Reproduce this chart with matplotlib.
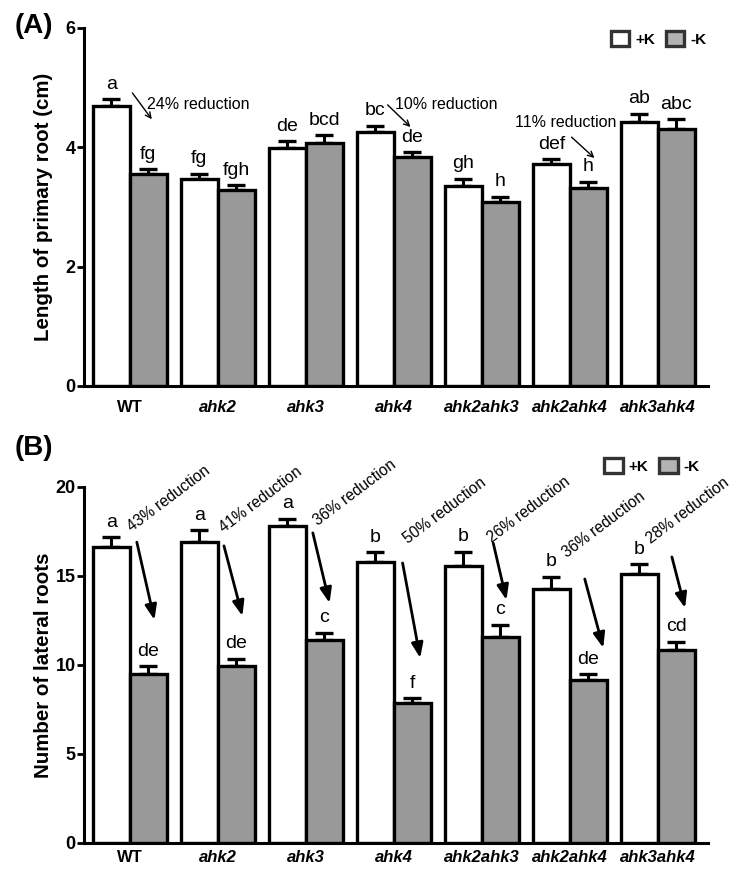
import numpy as np
import matplotlib
matplotlib.use("Agg")
import matplotlib.pyplot as plt

plt.rcParams['font.family'] = ['Liberation Sans', 'DejaVu Sans']

genotypes = ['WT', 'ahk2', 'ahk3', 'ahk4', 'ahk2ahk3', 'ahk2ahk4', 'ahk3ahk4']

# (A) length of primary root (cm)
primaryPlusK = [4.69, 3.47, 3.99, 4.25, 3.35, 3.72, 4.43]
primaryPlusKErr = [0.12, 0.09, 0.11, 0.11, 0.12, 0.08, 0.13]
primaryMinusK = [3.55, 3.28, 4.08, 3.83, 3.09, 3.32, 4.30]
primaryMinusKErr = [0.08, 0.08, 0.12, 0.09, 0.08, 0.10, 0.17]
primaryLettersPlus = ['a', 'fg', 'de', 'bc', 'gh', 'def', 'ab']
primaryLettersMinus = ['fg', 'fgh', 'bcd', 'de', 'h', 'h', 'abc']

# (B) number of lateral roots
lateralPlusK = [16.65, 16.89, 17.81, 15.80, 15.58, 14.25, 15.11]
lateralPlusKErr = [0.53, 0.69, 0.41, 0.53, 0.78, 0.71, 0.56]
lateralMinusK = [9.49, 9.96, 11.43, 7.88, 11.55, 9.16, 10.84]
lateralMinusKErr = [0.43, 0.39, 0.39, 0.25, 0.71, 0.32, 0.47]
lateralLettersPlus = ['a', 'a', 'a', 'b', 'b', 'b', 'b']
lateralLettersMinus = ['de', 'de', 'c', 'f', 'c', 'de', 'cd']
lateralReductions = ['43%', '41%', '36%', '50%', '26%', '36%', '28%']

greyColor = '#999999'
barWidth = 0.42


def drawBars(ax, plus, plusErr, minus, minusErr, lettersPlus, lettersMinus, labelPad):
    x = np.arange(len(genotypes))
    errKw = dict(ecolor='black', elinewidth=2.2, capsize=6.5, capthick=2.4, zorder=1)
    ax.bar(x - barWidth / 2, plus, barWidth, color='white', edgecolor='black',
           linewidth=2.4, yerr=[np.zeros(len(x)), plusErr], error_kw=errKw,
           label='+K', zorder=2)
    ax.bar(x + barWidth / 2, minus, barWidth, color=greyColor, edgecolor='black',
           linewidth=2.4, yerr=[np.zeros(len(x)), minusErr], error_kw=errKw,
           label='-K', zorder=2)
    for i in range(len(x)):
        ax.annotate(lettersPlus[i], (x[i] - barWidth / 2, plus[i] + plusErr[i]),
                    xytext=(0, 7.5), textcoords='offset points',
                    ha='center', va='baseline', fontsize=14)
        ax.annotate(lettersMinus[i], (x[i] + barWidth / 2, minus[i] + minusErr[i]),
                    xytext=(0, 7.5), textcoords='offset points',
                    ha='center', va='baseline', fontsize=14)

    ax.set_xlim(-0.52, 6.57)
    ax.set_xticks(x)
    ax.set_xticklabels(genotypes, fontweight='bold', fontsize=12)
    for lbl in ax.get_xticklabels()[1:]:
        lbl.set_fontstyle('italic')
    ax.tick_params(axis='x', length=0, pad=labelPad)
    ax.tick_params(axis='y', length=5, width=2, labelsize=13, pad=1)
    for lbl in ax.get_yticklabels():
        lbl.set_fontweight('bold')
    for side in ['top', 'right']:
        ax.spines[side].set_visible(False)
    for side in ['left', 'bottom']:
        ax.spines[side].set_linewidth(2.2)


def addLegend(ax, yPos, xPos):
    leg = ax.legend(loc='center right', bbox_to_anchor=(xPos, yPos), ncol=2,
                    frameon=False, fontsize=11, handlelength=1.2, handleheight=1.2,
                    handletextpad=0.4, columnspacing=0.7, borderpad=0, borderaxespad=0)
    for t in leg.get_texts():
        t.set_fontweight('bold')
    for h in leg.legend_handles:
        h.set_linewidth(2.4)
        h.set_edgecolor('#333333')
    leg.legend_handles[1].set_facecolor('#b3b3b3')


fig = plt.figure(figsize=(7.39, 8.73), dpi=100)
axA = fig.add_axes([0.1137, 0.5579, 0.8443, 0.4101])
axB = fig.add_axes([0.1137, 0.0344, 0.8443, 0.4078])

# ---- panel A
drawBars(axA, primaryPlusK, primaryPlusKErr, primaryMinusK, primaryMinusKErr,
         primaryLettersPlus, primaryLettersMinus, 10)
axA.set_ylim(0, 6)
axA.set_yticks([0, 2, 4, 6])
axA.set_yticklabels(['0', '2', '4', '6'], fontweight='bold')
axA.set_ylabel('Length of primary root (cm)', fontweight='bold', fontsize=14.8)
axA.yaxis.set_label_coords(-0.05, 0.5)
addLegend(axA, 0.97, 0.998)

thinArrow = dict(arrowstyle='->', lw=1.0, color='black', shrinkA=0, shrinkB=0)
axA.annotate('', xy=(0.25, 4.47), xytext=(0.03, 4.91), arrowprops=thinArrow)
axA.text(0.19, 4.72, '24% reduction', fontsize=11.5, va='center', ha='left')
axA.annotate('', xy=(3.19, 4.34), xytext=(2.93, 4.71), arrowprops=thinArrow)
axA.text(3.01, 4.72, '10% reduction', fontsize=11.5, va='center', ha='left')
axA.annotate('', xy=(5.28, 3.82), xytext=(5.02, 4.17), arrowprops=thinArrow)
axA.text(4.95, 4.41, '11% reduction', fontsize=11.5, va='center', ha='center')

# ---- panel B
drawBars(axB, lateralPlusK, lateralPlusKErr, lateralMinusK, lateralMinusKErr,
         lateralLettersPlus, lateralLettersMinus, 5)
axB.set_ylim(0, 20)
axB.set_yticks([0, 5, 10, 15, 20])
axB.set_yticklabels(['0', '5', '10', '15', '20'], fontweight='bold')
axB.set_ylabel('Number of lateral roots', fontweight='bold', fontsize=14.8)
axB.yaxis.set_label_coords(-0.05, 0.5)
addLegend(axB, 1.06, 0.987)

# rotated reduction labels and thick arrows
textPos = [(0.44, 19.33), (1.49, 19.27), (2.56, 19.66), (3.58, 18.65),
           (4.53, 18.7), (5.39, 17.9), (6.34, 18.65)]
arrowStart = [(0.08, 16.9), (1.07, 16.69), (2.08, 17.42), (3.10, 15.73),
              (4.13, 16.85), (5.17, 14.83), (6.16, 16.07)]
arrowEnd = [(0.28, 12.53), (1.28, 12.75), (2.27, 13.48), (3.30, 10.39),
            (4.28, 13.65), (5.38, 10.96), (6.31, 13.2)]
thickArrow = dict(arrowstyle='-|>,head_length=0.9,head_width=0.35', lw=2.0,
                  color='black', shrinkA=0, shrinkB=0)
for i, pct in enumerate(lateralReductions):
    axB.text(textPos[i][0], textPos[i][1], pct + ' reduction', fontsize=11.2,
             rotation=37, rotation_mode='anchor', ha='center', va='center',
             clip_on=False)
    axB.annotate('', xy=arrowEnd[i], xytext=arrowStart[i], arrowprops=thickArrow)

fig.text(0.02, 0.970, '(A)', fontsize=20, fontweight='bold', va='center', ha='left')
fig.text(0.02, 0.487, '(B)', fontsize=20, fontweight='bold', va='center', ha='left')

fig.savefig('out.png', dpi=100)
